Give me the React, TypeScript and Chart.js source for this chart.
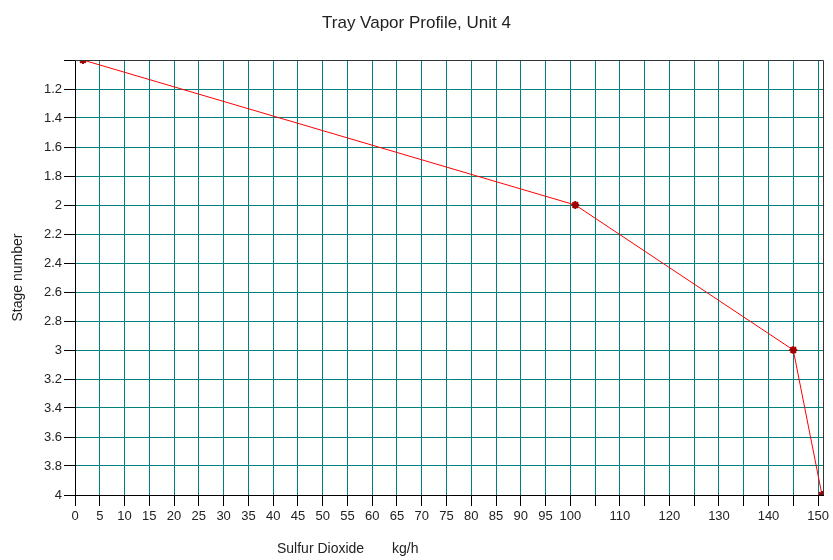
import React, { useEffect, useRef } from "react";
import { Chart, registerables } from "chart.js";

Chart.register(...registerables);

const chartTitle = "Tray Vapor Profile, Unit 4";
const xAxisTitle = "Sulfur Dioxide";
const xAxisUnit = "kg/h";
const yAxisTitle = "Stage number";

const stageNumbers = [1, 2, 3, 4];
const sulfurDioxide = [1.6, 101, 145, 150.8];

const xMin = 0;
const xMax = 151;
const xStep = 5;
const yMin = 1;
const yMax = 4;
const yStep = 0.2;

const FONT = "'Liberation Sans', Arial, sans-serif";

const decorPlugin = {
  id: "decor",
  beforeDraw(chart: any) {
    const { ctx, width, height } = chart;
    ctx.save();
    ctx.fillStyle = "#ffffff";
    ctx.fillRect(0, 0, width, height);
    ctx.restore();
  },
  afterDraw(chart: any) {
    const { ctx, chartArea } = chart;
    const { left, right, top, bottom } = chartArea;
    ctx.save();
    // top and right frame
    ctx.strokeStyle = "#333333";
    ctx.lineWidth = 1;
    ctx.beginPath();
    ctx.moveTo(left, top + 0.5);
    ctx.lineTo(right + 0.5, top + 0.5);
    ctx.lineTo(right + 0.5, bottom);
    ctx.stroke();

    ctx.fillStyle = "#222222";
    // title
    ctx.font = `17px ${FONT}`;
    ctx.textAlign = "center";
    ctx.textBaseline = "middle";
    ctx.fillText(chartTitle, chart.width / 2, 23);

    // x axis title
    ctx.font = `14px ${FONT}`;
    ctx.textAlign = "left";
    ctx.fillText(xAxisTitle, 277, 549);
    ctx.fillText(xAxisUnit, 392, 549);

    // y axis title
    ctx.translate(18, (top + bottom) / 2);
    ctx.rotate(-Math.PI / 2);
    ctx.textAlign = "center";
    ctx.fillText(yAxisTitle, 0, 0);
    ctx.restore();
  },
};

export default function App() {
  const canvasRef = useRef<HTMLCanvasElement | null>(null);

  useEffect(() => {
    if (!canvasRef.current) return;
    const points = sulfurDioxide.map((x, i) => ({ x, y: stageNumbers[i] }));
    const chart = new Chart(canvasRef.current, {
      type: "scatter",
      data: {
        datasets: [
          {
            data: points,
            showLine: true,
            borderColor: "#ff0000",
            borderWidth: 1,
            pointStyle: "star",
            pointRadius: 4,
            pointBorderColor: "#a00000",
            pointBorderWidth: 2,
            pointBackgroundColor: "#a00000",
          },
        ],
      },
      options: {
        responsive: false,
        animation: false,
        layout: { padding: { top: 60, right: 10, left: 0, bottom: 0 } },
        plugins: {
          legend: { display: false },
          title: { display: false },
          tooltip: { enabled: false },
        },
        scales: {
          x: {
            type: "linear",
            min: xMin,
            max: xMax,
            afterFit: (s: any) => {
              s.height = 65;
            },
            border: { color: "#000000", width: 1 },
            grid: {
              color: "rgb(0,128,128)",
              lineWidth: 1,
              tickColor: "#000000",
              tickLength: 11,
            },
            ticks: {
              stepSize: xStep,
              includeBounds: false,
              autoSkip: false,
              maxRotation: 0,
              padding: 3,
              color: "#222222",
              font: { family: FONT, size: 13 },
              callback: (v: any) => {
                const n = Number(v);
                if (n > 100 && n % 10 !== 0) return "";
                return String(n);
              },
            },
          },
          y: {
            type: "linear",
            reverse: true,
            min: yMin,
            max: yMax,
            afterFit: (s: any) => {
              s.width = 75;
            },
            border: { color: "#000000", width: 1 },
            grid: {
              color: "rgb(0,128,128)",
              lineWidth: 1,
              tickColor: "#000000",
              tickLength: 11,
            },
            ticks: {
              stepSize: yStep,
              autoSkip: false,
              padding: 2,
              color: "#222222",
              font: { family: FONT, size: 13 },
              callback: (v: any) => {
                const n = Number(Number(v).toFixed(1));
                if (n === yMin) return "";
                return String(n);
              },
            },
          },
        },
      },
      plugins: [decorPlugin],
    });
    return () => chart.destroy();
  }, []);

  return (
    <div style={{ position: "absolute", left: 0, top: 0, width: 833, height: 560 }}>
      <canvas ref={canvasRef} width={833} height={560} style={{ display: "block" }} />
    </div>
  );
}
